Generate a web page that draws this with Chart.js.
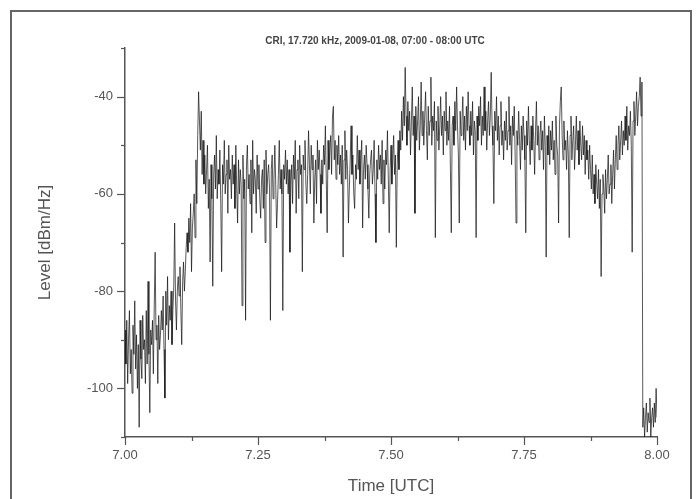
<!DOCTYPE html>
<html>
<head>
<meta charset="utf-8">
<script src="https://cdn.jsdelivr.net/npm/chart.js@4.4.1/dist/chart.umd.min.js"></script>
<style>
  html, body { margin: 0; padding: 0; background: #fff; }
  #wrap { position: relative; width: 697px; height: 499px; overflow: hidden; }
  #frame { position: absolute; left: 10px; top: 10px; width: 678px; height: 520px;
           border: 2px solid #666; border-bottom: none; }
  #chartBox { position: absolute; left: 0; top: 0; width: 697px; height: 499px; }
</style>
</head>
<body>
<div id="wrap">
  <div id="frame"></div>
  <div id="chartBox"><canvas id="mainChart"></canvas></div>
</div>
<script>
const chartTitle = 'CRI, 17.720 kHz, 2009-01-08, 07:00 - 08:00 UTC';

// one sample every 6 s, starting 07:00 UTC
const startHour = 7.0;
const sampleSeconds = 6;

// received level, dBm/Hz
const level = [
  -88, -95, -86, -99, -90, -84, -97, -92, -101, -87,
  -93, -82, -96, -89, -100, -91, -108, -86, -94, -98,
  -85, -92, -90, -99, -84, -95, -78, -93, -105, -88,
  -91, -86, -97, -83, -72, -90, -87, -99, -85, -92,
  -89, -84, -88, -81, -92, -102, -80, -87, -77, -90,
  -83, -86, -80, -91, -84, -79, -66, -82, -88, -80,
  -77, -81, -75, -84, -91, -78, -74, -80, -76, -71,
  -68, -72, -65, -70, -62, -76, -67, -64, -60, -69,
  -53, -62, -48, -39, -45, -51, -43, -56, -49, -58,
  -52, -60, -55, -50, -63, -57, -74, -54, -61, -79,
  -56, -52, -59, -48, -61, -55, -58, -51, -62, -76,
  -54, -58, -49, -60, -56, -53, -64, -50, -57, -55,
  -61, -52, -58, -54, -63, -50, -59, -66, -53, -60,
  -55, -58, -83, -52, -61, -57, -86, -54, -50, -59,
  -56, -62, -53, -68, -49, -60, -55, -57, -64, -52,
  -59, -54, -61, -65, -57, -55, -63, -53, -70, -51,
  -60, -56, -54, -59, -86, -55, -52, -61, -57, -50,
  -58, -67, -62, -56, -49, -59, -55, -60, -84, -54,
  -57, -51, -58, -53, -60, -55, -72, -58, -54, -62,
  -52, -57, -49, -64, -55, -53, -61, -50, -56, -54,
  -76, -52, -55, -49, -58, -62, -56, -47, -54, -60,
  -50, -55, -52, -66, -57, -53, -62, -49, -55, -51,
  -56, -64, -53, -58, -50, -54, -46, -57, -68, -49,
  -55, -51, -48, -56, -44, -42, -53, -49, -57, -50,
  -54, -48, -56, -52, -58, -50, -73, -53, -47, -57,
  -51, -55, -66, -59, -53, -46, -56, -52, -60, -63,
  -54, -57, -48, -55, -51, -58, -53, -49, -67, -55,
  -52, -57, -50, -54, -59, -65, -56, -53, -51, -58,
  -55, -49, -60, -70, -53, -57, -50, -55, -52, -58,
  -49, -62, -53, -59, -51, -54, -47, -57, -68, -55,
  -50, -58, -53, -48, -56, -52, -71, -54, -49, -55,
  -47, -51, -43, -49, -40, -46, -34, -44, -50, -41,
  -47, -43, -52, -45, -38, -48, -44, -64, -42, -49,
  -45, -40, -51, -46, -37, -48, -43, -50, -44, -39,
  -47, -53, -42, -48, -45, -36, -50, -44, -47, -41,
  -69, -45, -49, -42, -51, -46, -40, -48, -44, -52,
  -43, -47, -39, -50, -45, -49, -42, -55, -68, -46,
  -44, -50, -41, -47, -38, -46, -52, -66, -43, -48,
  -45, -40, -49, -44, -51, -42, -47, -39, -46, -50,
  -43, -48, -41, -52, -45, -47, -69, -44, -49, -42,
  -46, -40, -50, -44, -48, -38, -47, -43, -51, -45,
  -41, -48, -44, -35, -46, -50, -62, -43, -47, -40,
  -49, -44, -52, -46, -41, -50, -47, -53, -45, -49,
  -43, -51, -47, -40, -50, -46, -54, -44, -48, -42,
  -52, -66, -47, -50, -43, -49, -55, -46, -51, -44,
  -48, -53, -68, -45, -50, -42, -49, -54, -46, -51,
  -44, -49, -56, -47, -41, -50, -46, -53, -48, -45,
  -51, -47, -55, -44, -50, -73, -48, -52, -46, -54,
  -47, -51, -45, -53, -49, -56, -44, -50, -52, -66,
  -46, -41, -38, -48, -53, -45, -51, -49, -55, -47,
  -52, -69, -48, -44, -53, -49, -46, -55, -50, -44,
  -51, -47, -54, -45, -50, -53, -46, -52, -48, -56,
  -49, -53, -51, -57, -50, -55, -59, -52, -60, -56,
  -62, -54, -58, -61, -55, -63, -57, -77, -60, -56,
  -59, -64, -55, -61, -57, -52, -60, -58, -54, -62,
  -56, -51, -59, -53, -48, -55, -50, -46, -53, -49,
  -45, -52, -47, -50, -44, -49, -42, -51, -46, -48,
  -43, -50, -72, -45, -41, -48, -44, -39, -46, -42,
  -40, -36, -44, -37, -108, -104, -110, -106, -103, -109,
  -105, -107, -102, -110, -106, -104, -108, -103, -107, -100,
  -106
];

const xTicksMajor = [7.0, 7.25, 7.5, 7.75, 8.0];
const yTicksMajor = [-40, -60, -80, -100];

const points = level.map((v, i) => ({ x: startHour + i * sampleSeconds / 3600, y: v }));

const axisColor = '#555555';
const textColor = '#555555';

// Origin-style ticks: long at labelled values, short in between, pointing outward
const tickMarks = {
  id: 'tickMarks',
  afterDraw(chart) {
    const { ctx, scales: { x, y } } = chart;
    ctx.save();
    ctx.strokeStyle = axisColor;
    ctx.lineWidth = 1.2;
    for (let v = -110; v <= -30; v += 10) {
      const py = Math.round(y.getPixelForValue(v)) + 0.5;
      const len = yTicksMajor.includes(v) ? 8 : 4;
      ctx.beginPath();
      ctx.moveTo(x.left - len, py);
      ctx.lineTo(x.left, py);
      ctx.stroke();
    }
    for (let k = 0; k <= 8; k++) {
      const v = 7 + k * 0.125;
      const px = Math.round(x.getPixelForValue(v)) + 0.5;
      const len = k % 2 === 0 ? 8 : 4;
      ctx.beginPath();
      ctx.moveTo(px, y.bottom);
      ctx.lineTo(px, y.bottom + len);
      ctx.stroke();
    }
    ctx.fillStyle = '#444444';
    ctx.font = 'bold 10px "Liberation Sans", Arial, sans-serif';
    ctx.textAlign = 'center';
    ctx.textBaseline = 'middle';
    ctx.fillText(chartTitle, 375, 41);
    ctx.restore();
  }
};

new Chart(document.getElementById('mainChart'), {
  type: 'line',
  data: {
    datasets: [{
      data: points,
      borderColor: '#111111',
      borderWidth: 0.7,
      pointRadius: 0,
      tension: 0,
      fill: false
    }]
  },
  options: {
    responsive: true,
    maintainAspectRatio: false,
    animation: false,
    events: [],
    layout: { padding: { left: 28, right: 40, top: 48, bottom: 0 } },
    plugins: { legend: { display: false }, tooltip: { enabled: false }, title: { display: false } },
    scales: {
      x: {
        type: 'linear',
        min: 7,
        max: 8,
        afterFit: (s) => { s.height = 62; },
        afterBuildTicks: (s) => { s.ticks = xTicksMajor.map(v => ({ value: v })); },
        ticks: {
          color: textColor,
          padding: 3,
          maxRotation: 0,
          font: { family: '"Liberation Sans", Arial, sans-serif', size: 13 },
          callback: (v) => Number(v).toFixed(2)
        },
        grid: { drawOnChartArea: false, drawTicks: true, tickLength: 8, color: 'transparent' },
        border: { display: true, color: axisColor, width: 1.5 },
        title: {
          display: true,
          text: 'Time [UTC]',
          color: textColor,
          font: { family: '"Liberation Sans", Arial, sans-serif', size: 17 },
          padding: { top: 0, bottom: 2 }
        }
      },
      y: {
        min: -110,
        max: -30,
        afterFit: (s) => { s.width = 97; },
        afterBuildTicks: (s) => { s.ticks = yTicksMajor.map(v => ({ value: v })); },
        ticks: {
          color: textColor,
          padding: 4,
          font: { family: '"Liberation Sans", Arial, sans-serif', size: 13 }
        },
        grid: { drawOnChartArea: false, drawTicks: true, tickLength: 8, color: 'transparent' },
        border: { display: true, color: axisColor, width: 1.5 },
        title: {
          display: true,
          text: 'Level [dBm/Hz]',
          color: textColor,
          font: { family: '"Liberation Sans", Arial, sans-serif', size: 17 },
          padding: { top: 7, bottom: 0 }
        }
      }
    }
  },
  plugins: [tickMarks]
});
</script>
</body>
</html>
